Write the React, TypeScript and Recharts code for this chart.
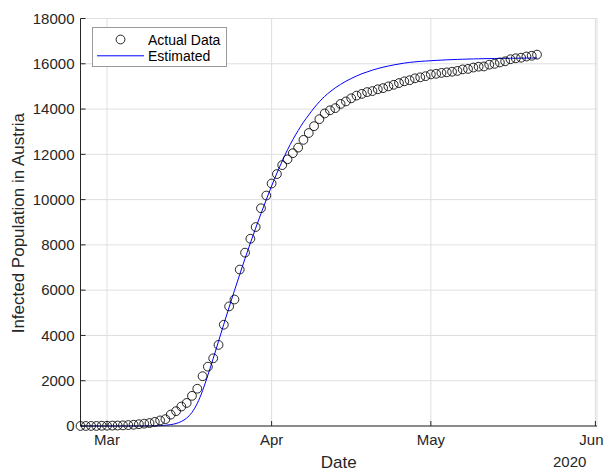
import {
  ComposedChart,
  Scatter,
  Line,
  XAxis,
  YAxis,
  CartesianGrid,
  Legend,
} from "recharts";

// day 0 = 25 Feb 2020, one value per day
const actualCases = [
  2, 2, 3, 3, 9, 14, 18, 21, 29, 41, 55, 79, 104, 131, 182, 246, 302, 504, 655,
  860, 1018, 1332, 1646, 2200, 2620, 2990, 3582, 4474, 5283, 5588, 6909, 7657,
  8271, 8788, 9618, 10180, 10711, 11129, 11524, 11781, 12051, 12297, 12639,
  12942, 13244, 13555, 13806, 13945, 14041, 14226, 14336, 14476, 14595, 14671,
  14749, 14795, 14873, 14925, 15002, 15071, 15148, 15225, 15274, 15357, 15402,
  15452, 15531, 15558, 15597, 15621, 15650, 15684, 15752, 15774, 15833, 15871,
  15882, 15961, 15997, 16058, 16109, 16201, 16242, 16269, 16321, 16353, 16404,
];

const estimatedCases = [
  0, 0, 0, 0, 0, 0, 0, 0, 0, 0, 1, 1, 2, 4, 8, 16, 32, 60, 110, 200, 350, 600,
  1000, 1560, 2250, 2980, 3740, 4500, 5250, 5980, 6700, 7400, 8080, 8740, 9380,
  10000, 10600, 11170, 11700, 12200, 12650, 13050, 13420, 13740, 14050, 14320,
  14560, 14760, 14940, 15090, 15230, 15350, 15460, 15560, 15640, 15720, 15790,
  15850, 15900, 15950, 15990, 16030, 16060, 16085, 16105, 16120, 16135, 16150,
  16162, 16174, 16184, 16193, 16201, 16208, 16214, 16220, 16225, 16229, 16233,
  16237, 16240, 16243, 16246, 16249, 16251, 16253, 16255,
];

const monthTicks = [5, 36, 66, 97];
const monthLabels = ["Mar", "Apr", "May", "Jun"];
const yearLabel = "2020";
const yTicks = [0, 2000, 4000, 6000, 8000, 10000, 12000, 14000, 16000, 18000];

const actualData = actualCases.map((v, i) => ({ day: i, value: v }));
const estimatedData = estimatedCases.map((v, i) => ({ day: i, value: v }));

const FONT = "'Liberation Sans', Arial, Helvetica, sans-serif";
const AXIS = "#262626";

const MonthTick = (props: any) => {
  const { x, y, payload, index } = props;
  const last = index === monthTicks.length - 1;
  return (
    <g>
      <text
        x={last ? x - 4 : x}
        y={y}
        dy="0.71em"
        textAnchor="middle"
        fontSize={15}
        fill={AXIS}
        fontFamily={FONT}
      >
        {monthLabels[monthTicks.indexOf(payload.value)]}
      </text>
      {last && (
        <text x={x - 9} y={y + 32.5} textAnchor="end" fontSize={15} fill={AXIS} fontFamily={FONT}>
          {yearLabel}
        </text>
      )}
    </g>
  );
};

const Circle = (props: any) => (
  <circle cx={props.cx} cy={props.cy} r={4.4} fill="none" stroke="#000" strokeWidth={0.85} />
);

const LegendBox = () => (
  <svg width={136} height={41} style={{ display: "block" }}>
    <rect x={0.5} y={0.5} width={134} height={39} fill="#fff" stroke="#9a9a9a" />
    <circle cx={28.5} cy={12.5} r={4.4} fill="none" stroke="#000" strokeWidth={0.85} />
    <text x={56} y={17.5} fontSize={14} fill="#000" fontFamily={FONT}>Actual Data</text>
    <line x1={5} x2={52} y1={28.8} y2={28.8} stroke="#0000ff" strokeWidth={1} />
    <text x={56} y={34} fontSize={14} fill="#000" fontFamily={FONT}>Estimated</text>
  </svg>
);

export default function App() {
  return (
    <div style={{ position: "absolute", left: 0, top: 0, fontFamily: FONT }}>
      <ComposedChart width={606} height={471} margin={{ top: 18.5, right: 9, bottom: 0, left: 0 }}>
        <CartesianGrid xAxisId="b" yAxisId="l" stroke="#dfdfdf" />
        <XAxis
          xAxisId="b"
          type="number"
          dataKey="day"
          domain={[0, 97.3]}
          ticks={monthTicks}
          height={45}
          tickSize={-5}
          tickMargin={13.5}
          stroke={AXIS}
          tick={MonthTick}
          label={{
            content: (p: any) => (
              <text
                x={p.viewBox.x + p.viewBox.width / 2}
                y={p.viewBox.y + 41.5}
                textAnchor="middle"
                fontSize={17}
                fill={AXIS}
                fontFamily={FONT}
              >
                Date
              </text>
            ),
          }}
        />
        <XAxis
          xAxisId="t"
          orientation="top"
          type="number"
          domain={[0, 97.3]}
          ticks={monthTicks}
          height={0}
          tickSize={-5}
          tick={false}
          stroke={AXIS}
        />
        <YAxis
          yAxisId="l"
          type="number"
          dataKey="value"
          domain={[0, 18000]}
          ticks={yTicks}
          width={80.5}
          tickSize={-5}
          tickMargin={11}
          stroke={AXIS}
          tick={{ fontSize: 15, fill: AXIS, fontFamily: FONT }}
          label={{
            content: (p: any) => {
              const cx = p.viewBox.x + 24;
              const cy = p.viewBox.y + p.viewBox.height / 2 + 1;
              return (
                <text
                  x={cx}
                  y={cy}
                  transform={`rotate(-90 ${cx} ${cy})`}
                  textAnchor="middle"
                  fontSize={17}
                  fill={AXIS}
                  fontFamily={FONT}
                >
                  Infected Population in Austria
                </text>
              );
            },
          }}
        />
        <YAxis
          yAxisId="r"
          orientation="right"
          type="number"
          domain={[0, 18000]}
          ticks={yTicks}
          width={0}
          tickSize={-5}
          tick={false}
          stroke={AXIS}
        />
        <Legend
          layout="vertical"
          align="center"
          verticalAlign="middle"
          wrapperStyle={{ left: 92, top: 27, width: 136 }}
          content={LegendBox}
        />
        <Scatter
          xAxisId="b"
          yAxisId="l"
          name="Actual Data"
          data={actualData}
          dataKey="value"
          shape={Circle}
          isAnimationActive={false}
        />
        <Line
          xAxisId="b"
          yAxisId="l"
          name="Estimated"
          data={estimatedData}
          dataKey="value"
          type="monotone"
          stroke="#0000ff"
          strokeWidth={1}
          dot={false}
          activeDot={false}
          isAnimationActive={false}
        />
      </ComposedChart>
    </div>
  );
}
